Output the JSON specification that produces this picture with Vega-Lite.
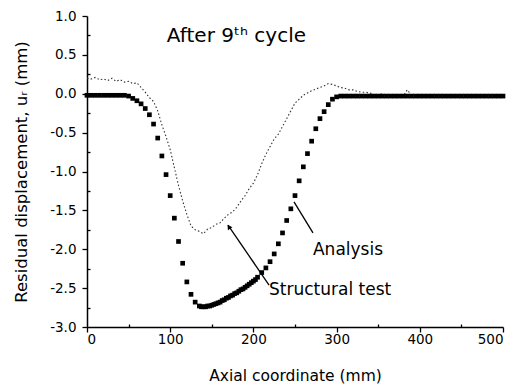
{
  "$schema": "https://vega.github.io/schema/vega-lite/v6.json",
  "width": 416,
  "height": 311,
  "autosize": {"type": "none"},
  "padding": {"left": 87, "top": 16, "right": 19, "bottom": 58},
  "background": "white",
  "config": {
    "view": {"stroke": null},
    "font": "DejaVu Sans",
    "axis": {
      "grid": false,
      "domainColor": "black",
      "domainWidth": 1.5,
      "tickColor": "black",
      "tickWidth": 1.3,
      "labelColor": "black",
      "titleColor": "black",
      "labelFont": "DejaVu Sans",
      "titleFont": "DejaVu Sans",
      "titleFontWeight": "normal"
    }
  },
  "datasets": {
    "analysis": [
      {"pos":0,"disp":-0.02},{"pos":5,"disp":-0.02},{"pos":10,"disp":-0.02},{"pos":15,"disp":-0.02},{"pos":20,"disp":-0.02},
      {"pos":25,"disp":-0.02},{"pos":30,"disp":-0.02},{"pos":35,"disp":-0.02},{"pos":40,"disp":-0.02},{"pos":45,"disp":-0.02},
      {"pos":50,"disp":-0.03},{"pos":55,"disp":-0.06},{"pos":60,"disp":-0.09},{"pos":65,"disp":-0.13},{"pos":70,"disp":-0.19},
      {"pos":75,"disp":-0.27},{"pos":80,"disp":-0.39},{"pos":85,"disp":-0.57},{"pos":90,"disp":-0.80},{"pos":95,"disp":-1.04},
      {"pos":100,"disp":-1.31},{"pos":105,"disp":-1.60},{"pos":110,"disp":-1.90},{"pos":115,"disp":-2.18},{"pos":120,"disp":-2.42},
      {"pos":125,"disp":-2.58},{"pos":130,"disp":-2.68},{"pos":135,"disp":-2.73},{"pos":137.5,"disp":-2.74},{"pos":140,"disp":-2.74},
      {"pos":142.5,"disp":-2.74},{"pos":145,"disp":-2.73},{"pos":147.5,"disp":-2.73},{"pos":150,"disp":-2.72},{"pos":152.5,"disp":-2.71},
      {"pos":155,"disp":-2.70},{"pos":157.5,"disp":-2.69},{"pos":160,"disp":-2.68},{"pos":162.5,"disp":-2.66},{"pos":165,"disp":-2.65},
      {"pos":167.5,"disp":-2.63},{"pos":170,"disp":-2.62},{"pos":172.5,"disp":-2.60},{"pos":175,"disp":-2.59},{"pos":177.5,"disp":-2.57},
      {"pos":180,"disp":-2.56},{"pos":182.5,"disp":-2.54},{"pos":185,"disp":-2.52},{"pos":187.5,"disp":-2.51},{"pos":190,"disp":-2.49},
      {"pos":192.5,"disp":-2.47},{"pos":195,"disp":-2.45},{"pos":197.5,"disp":-2.43},{"pos":200,"disp":-2.41},{"pos":202.5,"disp":-2.39},
      {"pos":205,"disp":-2.36},{"pos":210,"disp":-2.30},{"pos":215,"disp":-2.24},{"pos":220,"disp":-2.16},{"pos":225,"disp":-2.06},
      {"pos":230,"disp":-1.93},{"pos":235,"disp":-1.79},{"pos":240,"disp":-1.63},{"pos":245,"disp":-1.48},{"pos":250,"disp":-1.31},
      {"pos":255,"disp":-1.12},{"pos":260,"disp":-0.94},{"pos":265,"disp":-0.77},{"pos":270,"disp":-0.61},{"pos":275,"disp":-0.45},
      {"pos":280,"disp":-0.32},{"pos":285,"disp":-0.23},{"pos":290,"disp":-0.14},{"pos":295,"disp":-0.07},{"pos":300,"disp":-0.04},
      {"pos":305,"disp":-0.03},{"pos":310,"disp":-0.03},{"pos":315,"disp":-0.03},{"pos":320,"disp":-0.03},{"pos":325,"disp":-0.03},
      {"pos":330,"disp":-0.03},{"pos":335,"disp":-0.03},{"pos":340,"disp":-0.03},{"pos":345,"disp":-0.03},{"pos":350,"disp":-0.03},
      {"pos":355,"disp":-0.03},{"pos":360,"disp":-0.03},{"pos":365,"disp":-0.03},{"pos":370,"disp":-0.03},{"pos":375,"disp":-0.03},
      {"pos":380,"disp":-0.03},{"pos":385,"disp":-0.03},{"pos":390,"disp":-0.03},{"pos":395,"disp":-0.03},{"pos":400,"disp":-0.03},
      {"pos":405,"disp":-0.03},{"pos":410,"disp":-0.03},{"pos":415,"disp":-0.03},{"pos":420,"disp":-0.03},{"pos":425,"disp":-0.03},
      {"pos":430,"disp":-0.03},{"pos":435,"disp":-0.03},{"pos":440,"disp":-0.03},{"pos":445,"disp":-0.03},{"pos":450,"disp":-0.03},
      {"pos":455,"disp":-0.03},{"pos":460,"disp":-0.03},{"pos":465,"disp":-0.03},{"pos":470,"disp":-0.03},{"pos":475,"disp":-0.03},
      {"pos":480,"disp":-0.03},{"pos":485,"disp":-0.03},{"pos":490,"disp":-0.03},{"pos":495,"disp":-0.03},{"pos":500,"disp":-0.03}
    ],
    "test": [
      {"pos":0,"disp":0.20},{"pos":5,"disp":0.19},{"pos":10,"disp":0.21},{"pos":15,"disp":0.18},{"pos":20,"disp":0.19},
      {"pos":25,"disp":0.17},{"pos":30,"disp":0.20},{"pos":35,"disp":0.16},{"pos":40,"disp":0.18},{"pos":45,"disp":0.15},
      {"pos":50,"disp":0.16},{"pos":55,"disp":0.13},{"pos":60,"disp":0.14},{"pos":65,"disp":0.08},{"pos":70,"disp":0.02},
      {"pos":75,"disp":-0.05},{"pos":80,"disp":-0.10},{"pos":85,"disp":-0.22},{"pos":90,"disp":-0.40},{"pos":95,"disp":-0.55},
      {"pos":100,"disp":-0.72},{"pos":105,"disp":-0.95},{"pos":110,"disp":-1.18},{"pos":115,"disp":-1.38},{"pos":120,"disp":-1.55},
      {"pos":125,"disp":-1.70},{"pos":130,"disp":-1.75},{"pos":135,"disp":-1.77},{"pos":140,"disp":-1.80},{"pos":145,"disp":-1.74},
      {"pos":150,"disp":-1.72},{"pos":155,"disp":-1.68},{"pos":160,"disp":-1.66},{"pos":165,"disp":-1.60},{"pos":170,"disp":-1.55},
      {"pos":175,"disp":-1.52},{"pos":180,"disp":-1.46},{"pos":185,"disp":-1.38},{"pos":190,"disp":-1.31},{"pos":195,"disp":-1.22},
      {"pos":200,"disp":-1.15},{"pos":205,"disp":-1.04},{"pos":210,"disp":-0.90},{"pos":215,"disp":-0.78},{"pos":220,"disp":-0.68},
      {"pos":225,"disp":-0.58},{"pos":230,"disp":-0.52},{"pos":235,"disp":-0.42},{"pos":240,"disp":-0.32},{"pos":245,"disp":-0.22},
      {"pos":250,"disp":-0.12},{"pos":255,"disp":-0.07},{"pos":260,"disp":-0.02},{"pos":265,"disp":0.01},{"pos":270,"disp":0.04},
      {"pos":275,"disp":0.06},{"pos":280,"disp":0.08},{"pos":285,"disp":0.10},{"pos":290,"disp":0.13},{"pos":295,"disp":0.12},
      {"pos":300,"disp":0.10},{"pos":305,"disp":0.08},{"pos":310,"disp":0.07},{"pos":315,"disp":0.05},{"pos":320,"disp":0.05},
      {"pos":325,"disp":0.03},{"pos":330,"disp":0.02},{"pos":335,"disp":0.02},{"pos":340,"disp":0.01},{"pos":345,"disp":-0.01},
      {"pos":350,"disp":-0.02},{"pos":355,"disp":0.00},{"pos":360,"disp":-0.03},{"pos":365,"disp":-0.01},{"pos":370,"disp":-0.02},
      {"pos":375,"disp":-0.01},{"pos":380,"disp":-0.03},{"pos":385,"disp":0.05},{"pos":390,"disp":-0.02},{"pos":395,"disp":-0.01},
      {"pos":400,"disp":-0.02},{"pos":410,"disp":-0.03},{"pos":420,"disp":-0.02},{"pos":430,"disp":-0.03},{"pos":440,"disp":-0.02},
      {"pos":450,"disp":-0.03},{"pos":460,"disp":-0.02},{"pos":470,"disp":-0.03},{"pos":480,"disp":-0.02},{"pos":490,"disp":-0.03},
      {"pos":500,"disp":-0.02}
    ],
    "leaders": [
      {"pos":271.6,"disp":-1.79,"pos2":248.8,"disp2":-1.39},
      {"pos":169.5,"disp":-1.69,"pos2":218.8,"disp2":-2.46}
    ],
    "arrow": [{"pos":170.5,"disp":-1.71}],
    "labels": [
      {"pos":271.6,"disp":-2.01,"label":"Analysis"},
      {"pos":218.8,"disp":-2.52,"label":"Structural test"}
    ],
    "title": [{"pos":96,"disp":0.74,"label":"After 9ᵗʰ cycle"}]
  },
  "encoding": {
    "x": {"field": "pos", "type": "quantitative", "scale": {"domain": [0, 500], "nice": false, "zero": false}, "axis": null},
    "y": {"field": "disp", "type": "quantitative", "scale": {"domain": [-3, 1], "nice": false, "zero": false}, "axis": null}
  },
  "layer": [
    {
      "data": {"name": "test"},
      "mark": {"type": "line", "color": "#333333", "strokeWidth": 1.1, "strokeDash": [1.5, 2.2]},
      "encoding": {
        "x": {"field": "pos", "type": "quantitative", "axis": {"orient": "bottom", "values": [50, 150, 250, 350, 450], "labels": false, "domain": false, "tickSize": -3, "title": null, "grid": false}},
        "y": {"field": "disp", "type": "quantitative", "axis": {"orient": "left", "values": [0.75, 0.25, -0.25, -0.75, -1.25, -1.75, -2.25, -2.75], "labels": false, "domain": false, "tickSize": -3, "title": null, "grid": false}}
      }
    },
    {
      "data": {"name": "analysis"},
      "mark": {"type": "point", "shape": "square", "filled": true, "color": "black", "size": 22, "opacity": 1},
      "encoding": {
        "x": {"field": "pos", "type": "quantitative", "axis": {"orient": "bottom", "values": [0, 100, 200, 300, 400, 500], "tickSize": 5, "labelPadding": 0, "labelFontSize": 13.5, "title": "Axial coordinate (mm)", "titleFontSize": 15.5, "titlePadding": 23}},
        "y": {"field": "disp", "type": "quantitative", "axis": {"orient": "left", "values": [1, 0.5, 0, -0.5, -1, -1.5, -2, -2.5, -3], "tickSize": 5, "labelPadding": 6, "labelFontSize": 13.5, "labelExpr": "replace(format(datum.value, '.1f'), '−', '-')", "title": "Residual displacement, uᵣ (mm)", "titleFontSize": 16.5, "titlePadding": 20}}
      }
    },
    {
      "data": {"name": "leaders"},
      "mark": {"type": "rule", "color": "black", "strokeWidth": 1.3},
      "encoding": {
        "x2": {"field": "pos2"},
        "y2": {"field": "disp2"}
      }
    },
    {
      "data": {"name": "arrow"},
      "mark": {"type": "point", "shape": "triangle-up", "filled": true, "color": "black", "size": 30, "angle": -34, "opacity": 1},
      "encoding": {}
    },
    {
      "data": {"name": "labels"},
      "mark": {"type": "text", "align": "left", "baseline": "middle", "fontSize": 17, "color": "black"},
      "encoding": {"text": {"field": "label"}}
    },
    {
      "data": {"name": "title"},
      "mark": {"type": "text", "align": "left", "baseline": "middle", "fontSize": 20, "color": "black"},
      "encoding": {"text": {"field": "label"}}
    }
  ],
  "resolve": {"axis": {"x": "independent", "y": "independent"}}
}
